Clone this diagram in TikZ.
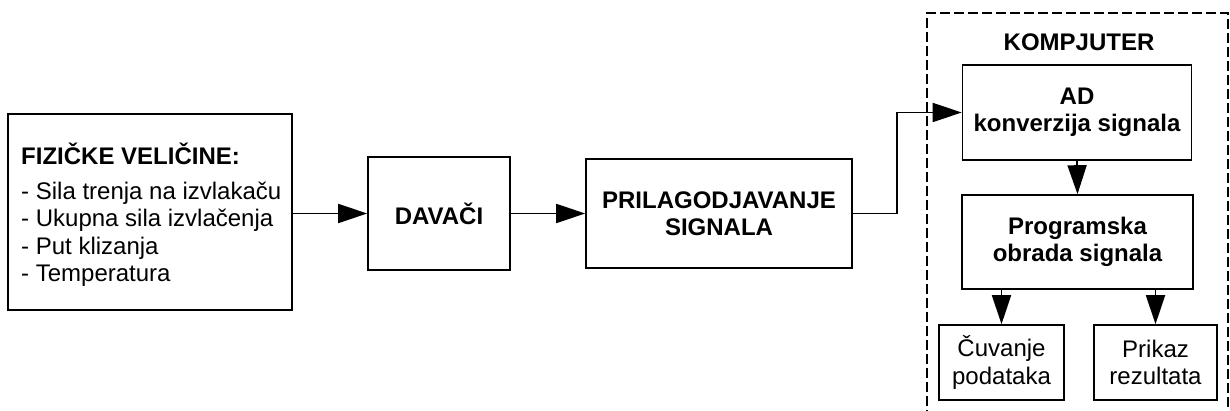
\documentclass[tikz,border=0pt]{standalone}
\usepackage{fontspec}
\setmainfont{Liberation Sans}
\usetikzlibrary{arrows.meta}
\begin{document}
\begin{tikzpicture}[x=1pt,y=-1pt,
  blk/.style={draw=black,line width=1.6pt,inner sep=0pt,rectangle},
  lbl/.style={inner sep=0pt,align=center,font=\fontsize{24}{27.5}\selectfont},
  blbl/.style={lbl,font=\fontsize{24}{27.5}\selectfont\bfseries},
  arr/.style={line width=1.8pt,-{Triangle[length=29pt,width=19pt]}},
  frame/.style={line width=2.4pt,dash pattern=on 10pt off 4pt}]
\useasboundingbox (0,0) rectangle (1230,411);
\fill[white] (0,0) rectangle (1230,411);

% input quantities
\node[blk,minimum width=284pt,minimum height=196pt] (phys) at (150,212) {};
\node[inner sep=0pt,anchor=west,align=left,font=\fontsize{24}{27.6}\selectfont] (physt) at (21,215)
  {\textbf{FIZIČKE VELIČINE:}\\[7pt]
   - Sila trenja na izvlakaču\\
   - Ukupna sila izvlačenja\\
   - Put klizanja\\
   - Temperatura};

% sensors and signal conditioning
\node[blk,minimum width=142pt,minimum height=113pt] (dav) at (439,213.5) {};
\node[blbl] (davt) at (dav.center) {DAVAČI};
\node[blk,minimum width=266pt,minimum height=109pt] (pri) at (719,213.5) {};
\node[blbl] (prit) at (pri.center) {PRILAGODJAVANJE\\SIGNALA};

% computer
\draw[frame] (927,420) -- (927,13) -- (1228,13) -- (1228,420);
\node[blbl] (komp) at (1079,42) {KOMPJUTER};
\node[blk,minimum width=229pt,minimum height=95pt] (ad) at (1077,112.5) {};
\node[blbl] (adt) at (ad.center) {AD\\konverzija signala};
\node[blk,minimum width=231pt,minimum height=94pt] (prog) at (1077.5,242) {};
\node[blbl] (progt) at (prog.center) {Programska\\obrada signala};
\node[blk,minimum width=125pt,minimum height=75pt] (cuv) at (1001.5,362.5) {};
\node[lbl] (cuvt) at (cuv.center) {Čuvanje\\podataka};
\node[blk,minimum width=123pt,minimum height=75pt] (pri2) at (1155.5,362.5) {};
\node[lbl] (pri2t) at (pri2.center) {Prikaz\\rezultata};

% signal flow
\draw[arr] (phys.east |- dav.west) -- (dav.west);
\draw[arr] (dav.east) -- (pri.west);
\draw[arr] (pri.east) -- ++(44,0) |- (ad.west);
\draw[arr] (ad.south) -- (prog.north);
\draw[arr] (prog.south -| cuv.north) -- (cuv.north);
\draw[arr] (prog.south -| pri2.north) -- (pri2.north);
\end{tikzpicture}
\end{document}
